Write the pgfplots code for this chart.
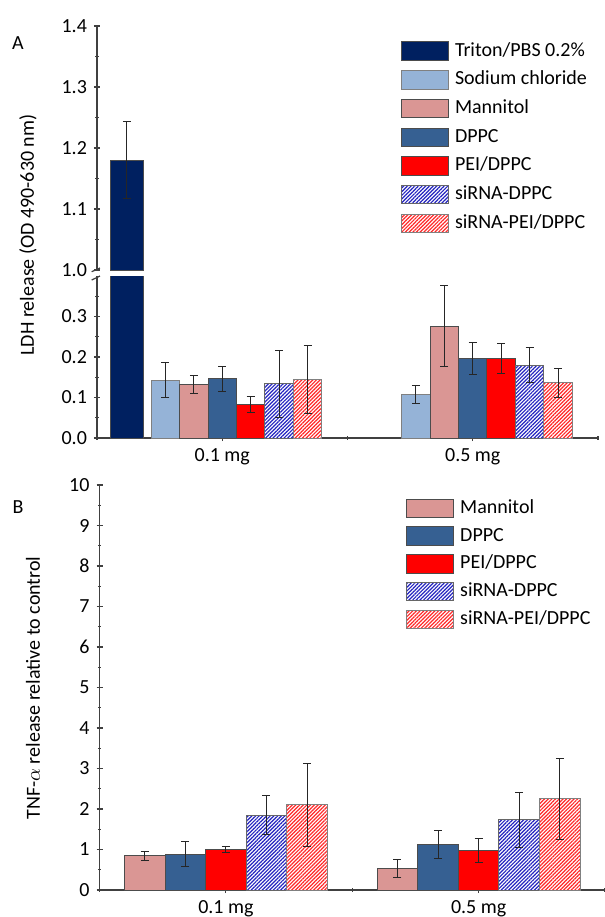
\documentclass[border=0pt]{standalone}
\usepackage{fontspec}
\setmainfont{Carlito}
\usepackage{pgfplots}
\pgfplotsset{compat=1.18}
\usetikzlibrary{patterns.meta}

\definecolor{triton}{HTML}{002060}
\definecolor{nacl}{HTML}{95B3D7}
\definecolor{mannitol}{HTML}{DA9694}
\definecolor{dppc}{HTML}{366092}
\definecolor{pei}{HTML}{FF0000}
\definecolor{hblue}{HTML}{2424C0}
\definecolor{hred}{HTML}{FF2828}

\pgfplotsset{
  base/.style={
    scale only axis, xmin=0.5, xmax=2.5,
    tick style={black!75, line width=0.6pt},
    tick align=outside, major tick length=3pt, minor tick length=1.6pt,
    ticklabel style={font=\fontsize{10}{12}\selectfont},
    /pgf/number format/assume math mode=true,
    error bars/y dir=both, error bars/y explicit,
    error bars/error bar style={black!85, line width=0.5pt},
    error bars/error mark options={rotate=90, black!85, line width=0.5pt, mark size=2pt},
    legend image code/.code={\draw[#1] (0pt,-4.6pt) rectangle (23.5pt,4.6pt);},
    legend style={draw=none, fill=none, inner sep=0pt, font=\fontsize{10}{12}\selectfont,
      nodes={inner sep=0pt, text height=7pt, text depth=2pt, anchor=west}, column sep=3pt},
    legend cell align=left,
  },
  lines/.style={axis line style={-, black!75, line width=0.6pt}},
  sTriton/.style={ybar, bar shift=0pt, fill=triton, draw=black!70, line width=0.5pt},
  sNacl/.style={ybar, bar shift=0pt, fill=nacl, draw=black!50, line width=0.5pt},
  sMan/.style={ybar, bar shift=0pt, fill=mannitol, draw=black!70, line width=0.5pt},
  sDppc/.style={ybar, bar shift=0pt, fill=dppc, draw=black!70, line width=0.5pt},
  sPei/.style={ybar, bar shift=0pt, fill=pei, draw=black!70, line width=0.5pt},
  sSiD/.style={ybar, bar shift=0pt, fill=white, draw=black!60, line width=0.5pt,
    postaction={pattern={Lines[angle=45,distance=1.3pt,line width=0.6pt]}, pattern color=hblue}},
  sSiP/.style={ybar, bar shift=0pt, fill=white, draw=black!50, line width=0.5pt,
    postaction={pattern={Lines[angle=45,distance=1.3pt,line width=0.6pt]}, pattern color=hred}},
}

\begin{document}
\begin{tikzpicture}
\useasboundingbox (0,0) rectangle (302.5pt,-458.5pt);

% ---------- Panel A, lower part ----------
\begin{axis}[base, at={(48.5pt,-219pt)}, anchor=south west,
  width=250.5pt, height=81pt, ymin=0, ymax=0.4,
  ytick={0,0.1,0.2,0.3}, minor ytick={0.05,0.15,0.25,0.35},
  xtick={1,2}, xticklabels={0.1 mg,0.5 mg}, minor xtick={0.5,1.5,2.5},
  axis x line=bottom, axis y line=left, lines,
  y tick label style={/pgf/number format/fixed, /pgf/number format/fixed zerofill, /pgf/number format/precision=1}]
\addplot[sTriton, bar width=0.1315] coordinates {(0.6195,1.18) +- (0,0.063)};
\addplot[sNacl, bar width=0.11355] coordinates {(0.7729,0.143) +- (0,0.043) (1.7729,0.108) +- (0,0.022)};
\addplot[sMan, bar width=0.11355] coordinates {(0.88645,0.1325) +- (0,0.022) (1.88645,0.2765) +- (0,0.101)};
\addplot[sDppc, bar width=0.11355] coordinates {(1,0.146) +- (0,0.031) (2,0.197) +- (0,0.040)};
\addplot[sPei, bar width=0.11355] coordinates {(1.11355,0.083) +- (0,0.019) (2.11355,0.197) +- (0,0.037)};
\addplot[sSiD, bar width=0.11355] coordinates {(1.2271,0.134) +- (0,0.083) (2.2271,0.180) +- (0,0.043)};
\addplot[sSiP, bar width=0.11355] coordinates {(1.3406,0.144) +- (0,0.084) (2.3406,0.136) +- (0,0.036)};
\end{axis}

% ---------- Panel A, upper part ----------
\begin{axis}[base, at={(48.5pt,-135pt)}, anchor=south west,
  width=250.5pt, height=122pt, ymin=1.0, ymax=1.4,
  ytick={1.0,1.1,1.2,1.3,1.4}, minor ytick={1.05,1.15,1.25,1.35},
  axis x line=none, axis y line=left, lines,
  y tick label style={/pgf/number format/fixed, /pgf/number format/fixed zerofill, /pgf/number format/precision=1},
  legend style={at={(0.606,0.9385)}, anchor=north west, row sep=4.65pt}]
\addplot[sTriton, bar width=0.1315] coordinates {(0.6195,1.18) +- (0,0.063)};
\addlegendentry{Triton/PBS 0.2\%}
\addlegendimage{sNacl}\addlegendentry{Sodium chloride}
\addlegendimage{sMan}\addlegendentry{Mannitol}
\addlegendimage{sDppc}\addlegendentry{DPPC}
\addlegendimage{sPei}\addlegendentry{PEI/DPPC}
\addlegendimage{sSiD}\addlegendentry{siRNA-DPPC}
\addlegendimage{sSiP}\addlegendentry{siRNA-PEI/DPPC}
\end{axis}

% axis break marks
\draw[black!75, line width=0.6pt] (45.85pt,-135.85pt) -- (50pt,-134pt);
\draw[black!75, line width=0.6pt] (45.85pt,-140pt) -- (50pt,-138pt);

% ---------- Panel B ----------
\begin{axis}[base, at={(49.75pt,-445pt)}, anchor=south west,
  width=252.75pt, height=202.5pt, ymin=0, ymax=10,
  ytick={0,1,...,10}, minor ytick={0.5,1.5,...,9.5},
  xtick={1,2}, xticklabels={0.1 mg,0.5 mg}, minor xtick={0.5,1.5,2.5},
  axis x line=bottom, axis y line=left, lines,
  legend style={at={(0.606,0.967)}, anchor=north west, row sep=4.15pt}]
\addplot[sMan, bar width=0.1605] coordinates {(0.679,0.84) +- (0,0.115) (1.679,0.535) +- (0,0.23)};
\addlegendentry{Mannitol}
\addplot[sDppc, bar width=0.1605] coordinates {(0.8395,0.88) +- (0,0.31) (1.8395,1.13) +- (0,0.35)};
\addlegendentry{DPPC}
\addplot[sPei, bar width=0.1605] coordinates {(1,1.0) +- (0,0.07) (2,0.97) +- (0,0.29)};
\addlegendentry{PEI/DPPC}
\addplot[sSiD, bar width=0.1605] coordinates {(1.1605,1.85) +- (0,0.49) (2.1605,1.73) +- (0,0.68)};
\addlegendentry{siRNA-DPPC}
\addplot[sSiP, bar width=0.1605] coordinates {(1.321,2.10) +- (0,1.02) (2.321,2.25) +- (0,1.0)};
\addlegendentry{siRNA-PEI/DPPC}
\end{axis}

% labels
\node[font=\fontsize{10}{12}\selectfont] at (9pt,-21.5pt) {A};
\node[font=\fontsize{10}{12}\selectfont] at (9pt,-253.5pt) {B};
\node[font=\fontsize{10}{12}\selectfont, rotate=90] at (14pt,-117.5pt) {LDH release (OD 490-630 nm)};
\node[font=\fontsize{10}{12}\selectfont, rotate=90] at (16.5pt,-344pt) {TNF-$\alpha$ release relative to control};
\end{tikzpicture}
\end{document}
